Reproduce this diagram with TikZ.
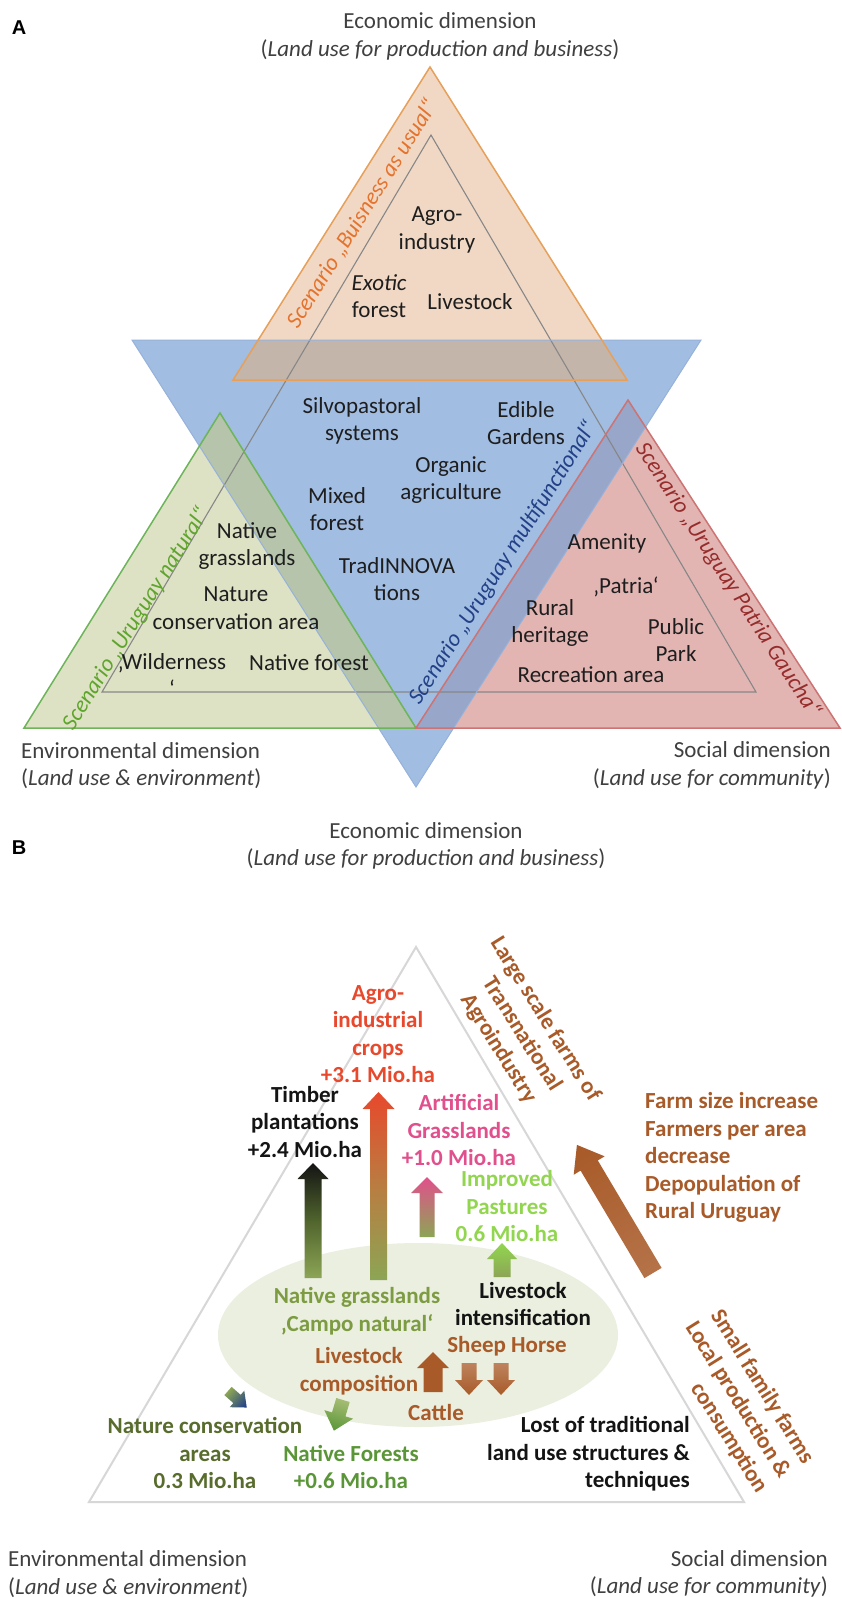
\documentclass[tikz,border=0pt]{standalone}
\usepackage{fontspec}
\setmainfont{Carlito}
\newfontfamily\arialf{Liberation Sans}
\newcommand\fs{\fontsize{23}{27.5}\selectfont}
% x, y (tail), rotation, length, shaft half width, head half width, head length, shading options
\newcommand\garrow[8]{%
  \begin{scope}[transform canvas={shift={(#1,#2)},rotate=#3}]
    \shade[#8] (-#5,0) -- (-#5,-#4+#7) -- (-#6,-#4+#7) -- (0,-#4) -- (#6,-#4+#7) -- (#5,-#4+#7) -- (#5,0) -- cycle;
  \end{scope}}
\definecolor{cBlue}{RGB}{162,189,226}
\definecolor{cBlueB}{RGB}{150,178,218}
\definecolor{cOr}{RGB}{241,216,196}
\definecolor{cOrB}{RGB}{230,160,90}
\definecolor{cOrBl}{RGB}{196,181,171}
\definecolor{cGr}{RGB}{221,226,196}
\definecolor{cGrB}{RGB}{110,180,90}
\definecolor{cGrBl}{RGB}{181,196,171}
\definecolor{cRd}{RGB}{226,181,179}
\definecolor{cRdB}{RGB}{205,115,115}
\definecolor{cRdBl}{RGB}{151,166,201}
\definecolor{cInner}{RGB}{135,135,135}
\definecolor{tDark}{RGB}{30,30,30}
\definecolor{tDim}{RGB}{64,64,64}
\definecolor{sOr}{RGB}{228,115,45}
\definecolor{sGr}{RGB}{95,165,45}
\definecolor{sBl}{RGB}{35,65,135}
\definecolor{sRd}{RGB}{150,45,45}
\definecolor{bRed}{RGB}{232,72,44}
\definecolor{bPink}{RGB}{225,80,140}
\definecolor{bLgreen}{RGB}{146,214,80}
\definecolor{bOlive}{RGB}{125,155,65}
\definecolor{bDolive}{RGB}{88,108,45}
\definecolor{bGreen}{RGB}{90,150,55}
\definecolor{bBrown}{RGB}{168,90,40}
\definecolor{bBlack}{RGB}{20,20,20}
\definecolor{aOlive}{RGB}{140,165,85}
\definecolor{aDark}{RGB}{80,100,45}
\definecolor{aMid}{RGB}{185,125,65}
\definecolor{aLight}{RGB}{165,188,115}
\definecolor{aBlue}{RGB}{25,55,140}
\definecolor{ellip}{RGB}{234,239,224}
\definecolor{triB}{RGB}{215,215,215}
\begin{document}
\begin{tikzpicture}[x=1pt,y=-1pt,
  lbl/.style={inner sep=0pt, align=center, font=\fs, text=tDark},
  blbl/.style={inner sep=0pt, align=center, font=\fs\bfseries},
  dim/.style={inner sep=0pt, font=\fs, text=tDim},
  scen/.style={inner sep=0pt, font=\fs\itshape}]
\useasboundingbox[fill=white] (0,0) rectangle (842,1597);

% ---------------- Panel A ----------------
\node[inner sep=0pt, font=\arialf\fontsize{20}{24}\selectfont\bfseries] (labA) at (19,28) {A};
\node[dim, align=center] (ecoA) at (440,36.5) {Economic dimension\\(\textit{Land use for production and business})};

\fill[cBlue] (132,340) -- (701,340) -- (416,787) -- cycle;
\fill[cGr] (220,413) -- (24,728) -- (416,728) -- cycle;
\fill[cRd] (628,400) -- (416,728) -- (840,728) -- cycle;
\fill[cOr] (430,67) -- (233,380) -- (627,380) -- cycle;
\begin{scope}
  \clip (132,340) -- (701,340) -- (416,787) -- cycle;
  \fill[cGrBl] (220,413) -- (24,728) -- (416,728) -- cycle;
  \fill[cRdBl] (628,400) -- (416,728) -- (840,728) -- cycle;
  \fill[cOrBl] (430,67) -- (233,380) -- (627,380) -- cycle;
\end{scope}
\draw[cInner, line width=1.1] (431,135) -- (102,692) -- (756,692) -- cycle;
\draw[cBlueB, line width=1] (132,340) -- (701,340) -- (416,787) -- cycle;
\draw[cGrB, line width=1.5] (220,413) -- (24,728) -- (416,728) -- cycle;
\draw[cRdB, line width=1.5] (628,400) -- (416,728) -- (840,728) -- cycle;
\draw[cOrB, line width=1.5] (430,67) -- (233,380) -- (627,380) -- cycle;

\node[scen, text=sOr, rotate=58] (scBau) at (362,214) {Scenario „Buisness as usual“};
\node[scen, text=sGr, rotate=58] (scNat) at (136,619) {Scenario „Uruguay natural“};
\node[scen, text=sBl, rotate=57.5] (scMul) at (503,563) {Scenario „Uruguay multifunctional“};
\node[scen, text=sRd, rotate=-57] (scPat) at (728,580) {Scenario „Uruguay Patria Gaucha“};

\node[lbl] (agroA) at (437,230) {Agro-\\industry};
\node[lbl] (exotic) at (379,296) {\textit{Exotic}\\forest};
\node[lbl] (livA) at (470,302) {Livestock};
\node[lbl] (silvo) at (362,421) {Silvopastoral\\systems};
\node[lbl] (edible) at (526,423) {Edible\\Gardens};
\node[lbl] (organic) at (451,480) {Organic\\agriculture};
\node[lbl] (mixed) at (337,509) {Mixed\\forest};
\node[lbl] (trad) at (397,579) {TradINNOVA\\tions};
\node[lbl] (natgr) at (247,546) {Native\\grasslands};
\node[lbl] (natcon) at (236,608) {Nature\\conservation area};
\node[lbl] (wild) at (172,675) {‚Wilderness\\‘};
\node[lbl] (natfor) at (309,663) {Native forest};
\node[lbl] (amen) at (607,543) {Amenity};
\node[lbl] (patria) at (626,587) {‚Patria‘};
\node[lbl] (rural) at (550,623) {Rural\\heritage};
\node[lbl] (public) at (676,640) {Public\\Park};
\node[lbl] (recr) at (591,675) {Recreation area};

\node[dim, anchor=west, align=left] (envA) at (21,765.5) {Environmental dimension\\(\textit{Land use \& environment})};
\node[dim, anchor=east, align=right] (socA) at (831,765.5) {Social dimension\\(\textit{Land use for community})};

% ---------------- Panel B ----------------
\node[inner sep=0pt, font=\arialf\fontsize{20}{24}\selectfont\bfseries] (labB) at (19,848) {B};
\node[dim, align=center] (ecoB) at (426,846) {Economic dimension\\(\textit{Land use for production and business})};

\fill[ellip] (418,1335) ellipse[x radius=200, y radius=92];
\draw[triB, line width=2] (416,947) -- (89,1502) -- (744,1502) -- cycle;

\garrow{313}{1278}{0}{115}{8.5}{15.5}{16}{bottom color=aOlive, top color=bBlack, middle color=aDark}
\garrow{378.5}{1280}{0}{188}{8.5}{16}{17}{bottom color=aOlive, top color=bRed, middle color=aMid}
\garrow{427}{1237}{0}{60}{7.5}{16}{16}{bottom color=aOlive, top color=bPink}
\garrow{502}{1277}{0}{34}{8.5}{15}{16}{bottom color=aOlive, top color=bLgreen}
\garrow{433}{1392}{0}{40}{9.5}{16}{16}{bottom color=bBrown, top color=bBrown}
\garrow{469}{1363}{180}{32}{7.5}{14}{15}{bottom color=bBrown!75!white, top color=bBrown}
\garrow{501}{1363}{180}{32}{7.5}{14}{15}{bottom color=bBrown!75!white, top color=bBrown}
\garrow{653}{1273}{30.7}{149}{10}{18}{24}{bottom color=bBrown!85!white, top color=bBrown}
\garrow{343}{1400}{163.5}{32}{7}{15}{17}{bottom color=aLight, top color=bGreen}
\garrow{228}{1391}{-131.4}{25}{5.5}{11}{13}{bottom color=aOlive, top color=aBlue}

\node[blbl, text=bRed] (agroB) at (378,1034) {Agro-\\industrial\\crops\\+3.1 Mio.ha};
\node[blbl, text=bBlack] (timber) at (305,1122) {Timber\\plantations\\+2.4 Mio.ha};
\node[blbl, text=bPink] (artif) at (459,1130) {Artificial\\Grasslands\\+1.0 Mio.ha};
\node[blbl, text=bLgreen] (improved) at (507,1206) {Improved\\Pastures\\0.6 Mio.ha};
\node[blbl, text=bBrown, rotate=-58] (large) at (522,1034) {Large scale farms of\\Transnational\\Agroindustry};
\node[blbl, text=bBrown, anchor=west, align=left] (farm) at (645,1157.5) {Farm size increase\\Farmers per area\\decrease\\Depopulation of\\Rural Uruguay};
\node[blbl, text=bOlive] (natgrB) at (357,1311) {Native grasslands\\‚Campo natural‘};
\node[blbl, text=bBlack] (livint) at (523,1304) {Livestock\\intensification};
\node[blbl, text=bBrown] (sheep) at (507,1346) {Sheep Horse};
\node[blbl, text=bBrown] (livcomp) at (359,1371) {Livestock\\composition};
\node[blbl, text=bBrown] (cattle) at (436,1412) {Cattle};
\node[blbl, text=bDolive] (natconB) at (205,1453) {Nature conservation\\areas\\0.3 Mio.ha};
\node[blbl, text=bGreen] (natforB) at (351,1467) {Native Forests\\+0.6 Mio.ha};
\node[blbl, text=bBlack, anchor=east, align=right] (lost) at (690,1454) {Lost of traditional\\land use structures \&\\techniques};
\node[blbl, text=bBrown, rotate=-58, align=right] (small) at (738,1400) {Small family farms\\Local production \&\\consumption};

\node[dim, anchor=west, align=left] (envB) at (8,1574) {Environmental dimension\\(\textit{Land use \& environment})};
\node[dim, anchor=east, align=right] (socB) at (828,1574) {Social dimension\\(\textit{Land use for community})};
\end{tikzpicture}
\end{document}
